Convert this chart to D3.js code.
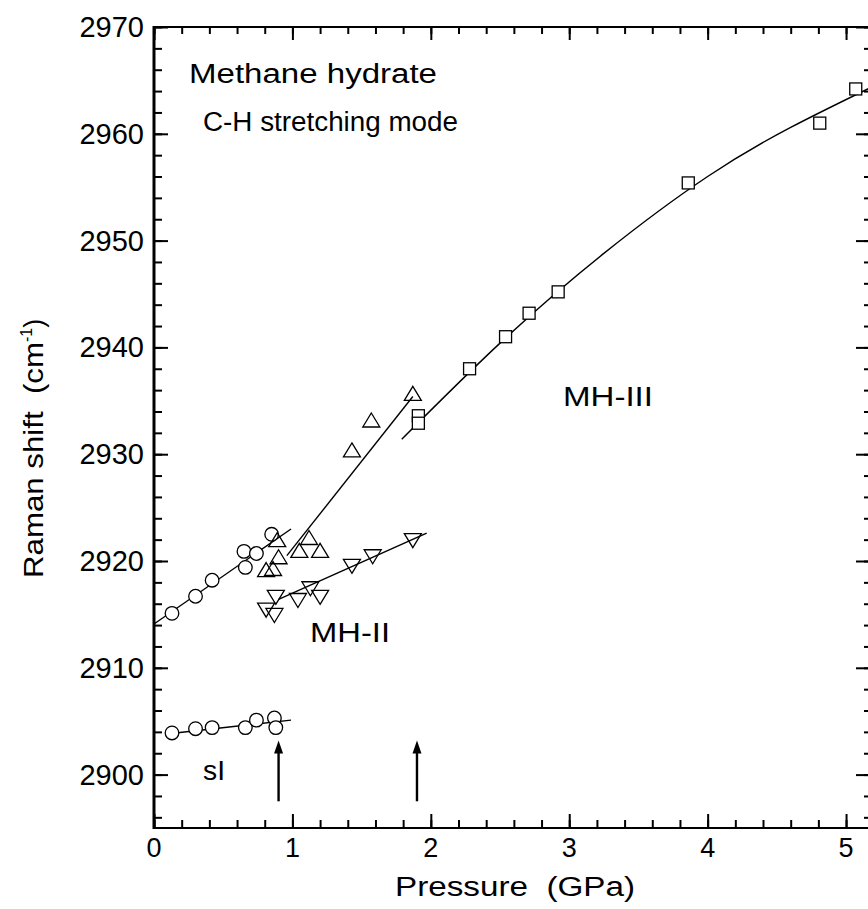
<!DOCTYPE html>
<html>
<head>
<meta charset="utf-8">
<script src="https://cdn.jsdelivr.net/npm/d3@7"></script>
<style>
  html, body { margin: 0; padding: 0; background: #fff; }
  svg { display: block; font-family: "Liberation Sans", Arial, sans-serif; }
</style>
</head>
<body>
<svg id="chart" width="868" height="909"></svg>
<script>
// Methane hydrate, C-H stretching mode vs pressure

// sI, lower-frequency C-H band (circles)
const sILowP = [0.13, 0.30, 0.42, 0.66, 0.74, 0.87, 0.88];
const sILowR = [2903.9, 2904.3, 2904.4, 2904.4, 2905.1, 2905.3, 2904.4];
// sI, higher-frequency C-H band (circles)
const sIHighP = [0.13, 0.30, 0.42, 0.66, 0.65, 0.74, 0.85];
const sIHighR = [2915.1, 2916.7, 2918.2, 2919.4, 2920.9, 2920.7, 2922.5];
// MH-II, upper band (up triangles)
const upP = [0.81, 0.86, 0.89, 0.90, 1.05, 1.12, 1.20, 1.43, 1.57, 1.87];
const upR = [2919.2, 2919.3, 2922.0, 2920.4, 2921.0, 2922.2, 2921.0, 2930.4, 2933.2, 2935.7];
// MH-II, lower band (down triangles)
const downP = [0.81, 0.87, 0.88, 1.04, 1.13, 1.20, 1.43, 1.58, 1.87];
const downR = [2915.4, 2914.9, 2916.6, 2916.3, 2917.4, 2916.6, 2919.5, 2920.4, 2921.9];
// MH-III (squares)
const sqP = [1.91, 1.91, 2.28, 2.54, 2.71, 2.92, 3.86, 4.81, 5.07];
const sqR = [2933.6, 2932.9, 2938.0, 2941.0, 2943.2, 2945.2, 2955.4, 2961.0, 2964.2];

// fitted guide lines
const fitSILowP = [0.09, 0.99], fitSILowR = [2903.8, 2905.1];
const fitSIHighP = [0.0, 0.99], fitSIHighR = [2914.1, 2923.0];
const fitUpP = [0.96, 1.87], fitUpR = [2920.5, 2935.4];
const fitDownP = [0.90, 1.97], fitDownR = [2916.4, 2922.6];
const fitMH3P = [1.79, 2.5, 3.25, 4.0, 4.6, 5.173];
const fitMH3R = [2931.4, 2940.4, 2948.8, 2956.0, 2960.6, 2964.3];

// transition pressures marked with arrows
const arrowP = [0.90, 1.90];
const arrowTipR = 2903.2, arrowBaseR = 2897.5;

// axes
const xTicks = [0, 1, 2, 3, 4, 5];
const yTicks = [2900, 2910, 2920, 2930, 2940, 2950, 2960, 2970];
const xDomain = [0, 5.173];
const yDomain = [2895, 2970];

const svg = d3.select("#chart");
const L = 154, R = 870, T = 27, B = 828;
const x = d3.scaleLinear().domain(xDomain).range([L, R]);
const y = d3.scaleLinear().domain(yDomain).range([B, T]);

const zip = (a, b) => a.map((v, i) => [v, b[i]]);

// --- axes with inward ticks on all four sides ---
const xMinor = d3.range(0, 5.2001, 0.2).filter(v => v <= xDomain[1]);
const yMinor = d3.range(2896, 2970.001, 2);

function axisGroup(axis, tx, ty) {
  const g = svg.append("g").attr("transform", `translate(${tx},${ty})`).call(axis);
  g.selectAll("text").remove();
  g.select(".domain").remove();
  g.selectAll("line").attr("stroke", "#000").attr("stroke-width", 2);
  return g;
}
// bottom
axisGroup(d3.axisTop(x).tickValues(xMinor).tickSize(8), 0, B);
axisGroup(d3.axisTop(x).tickValues(xTicks).tickSize(14), 0, B);
// top
axisGroup(d3.axisBottom(x).tickValues(xMinor).tickSize(7), 0, T);
axisGroup(d3.axisBottom(x).tickValues(xTicks).tickSize(13), 0, T);
// left
axisGroup(d3.axisRight(y).tickValues(yMinor).tickSize(8), L, 0);
axisGroup(d3.axisRight(y).tickValues(yTicks).tickSize(14), L, 0);
// right
axisGroup(d3.axisLeft(y).tickValues(yMinor).tickSize(6), R, 0);
axisGroup(d3.axisLeft(y).tickValues(yTicks).tickSize(14), R, 0);

// frame
svg.append("line").attr("x1", L).attr("x2", L).attr("y1", T - 1).attr("y2", B + 1)
  .attr("stroke", "#000").attr("stroke-width", 3);
svg.append("line").attr("x1", L).attr("x2", R).attr("y1", B).attr("y2", B)
  .attr("stroke", "#000").attr("stroke-width", 2.2);
svg.append("line").attr("x1", L).attr("x2", R).attr("y1", T).attr("y2", T)
  .attr("stroke", "#000").attr("stroke-width", 2.2);
svg.append("line").attr("x1", R).attr("x2", R).attr("y1", T).attr("y2", B)
  .attr("stroke", "#000").attr("stroke-width", 2.2);

// tick labels
svg.append("g").selectAll("text").data(xTicks).join("text")
  .attr("x", d => x(d)).attr("y", 857)
  .attr("text-anchor", "middle").attr("font-size", 27).text(d => d);
svg.append("g").selectAll("text").data(yTicks).join("text")
  .attr("x", 144).attr("y", d => y(d) + 10)
  .attr("text-anchor", "end").attr("font-size", 29).text(d => d);

// axis titles
svg.append("text").attr("x", 395).attr("y", 896)
  .attr("font-size", 27).attr("xml:space", "preserve")
  .attr("textLength", 240).attr("lengthAdjust", "spacingAndGlyphs")
  .text("Pressure  (GPa)");
const yl = svg.append("text").attr("transform", "translate(43,578) rotate(-90)")
  .attr("font-size", 27).attr("xml:space", "preserve");
yl.append("tspan").attr("textLength", 236).attr("lengthAdjust", "spacingAndGlyphs")
  .text("Raman shift  (cm");
yl.append("tspan").attr("font-size", 16).attr("dy", -11).text("-1");
yl.append("tspan").attr("dy", 11).text(")");

// --- fit lines ---
const line = d3.line().x(d => x(d[0])).y(d => y(d[1]));
const fits = [
  zip(fitSILowP, fitSILowR), zip(fitSIHighP, fitSIHighR),
  zip(fitUpP, fitUpR), zip(fitDownP, fitDownR)
];
svg.append("g").selectAll("path").data(fits).join("path")
  .attr("d", line).attr("fill", "none").attr("stroke", "#000").attr("stroke-width", 1.4);
svg.append("path").datum(zip(fitMH3P, fitMH3R))
  .attr("d", line.curve(d3.curveNatural))
  .attr("fill", "none").attr("stroke", "#000").attr("stroke-width", 1.4);

// --- markers ---
const mk = svg.append("g").attr("fill", "none").attr("stroke", "#000").attr("stroke-width", 1.3);
mk.selectAll("circle.lo").data(zip(sILowP, sILowR)).join("circle").attr("class", "lo")
  .attr("cx", d => x(d[0])).attr("cy", d => y(d[1])).attr("r", 6.8).attr("fill", "#fff");
mk.selectAll("circle.hi").data(zip(sIHighP, sIHighR)).join("circle").attr("class", "hi")
  .attr("cx", d => x(d[0])).attr("cy", d => y(d[1])).attr("r", 6.8).attr("fill", "#fff");
const s = 17, h = 14;
mk.selectAll("path.up").data(zip(upP, upR)).join("path").attr("class", "up")
  .attr("d", d => `M${x(d[0])},${y(d[1]) - h / 2}l${s / 2},${h}h${-s}z`);
mk.selectAll("path.dn").data(zip(downP, downR)).join("path").attr("class", "dn")
  .attr("d", d => `M${x(d[0])},${y(d[1]) + h / 2}l${s / 2},${-h}h${-s}z`);
mk.selectAll("rect.sq").data(zip(sqP, sqR)).join("rect").attr("class", "sq")
  .attr("x", d => x(d[0]) - 6).attr("y", d => y(d[1]) - 6)
  .attr("width", 12).attr("height", 12).attr("fill", "#fff");

// --- arrows ---
const ag = svg.append("g");
arrowP.forEach(p => {
  const xa = x(p), yt = y(arrowTipR), yb = y(arrowBaseR);
  ag.append("line").attr("x1", xa).attr("x2", xa).attr("y1", yb).attr("y2", yt + 8)
    .attr("stroke", "#000").attr("stroke-width", 2.4);
  ag.append("path").attr("d", `M${xa},${yt}l4.5,13h-9z`).attr("fill", "#000");
});

// --- annotations ---
const ann = [
  { t: "Methane hydrate", x: 189, y: 83, w: 248 },
  { t: "C-H stretching mode", x: 203, y: 131, w: 255 },
  { t: "MH-III", x: 563, y: 406, w: 90 },
  { t: "MH-II", x: 310, y: 642, w: 80 },
  { t: "sI", x: 203, y: 780, w: 22 }
];
svg.append("g").selectAll("text").data(ann).join("text")
  .attr("x", d => d.x).attr("y", d => d.y).attr("font-size", 27)
  .attr("textLength", d => d.w).attr("lengthAdjust", "spacingAndGlyphs")
  .text(d => d.t);
</script>
</body>
</html>
